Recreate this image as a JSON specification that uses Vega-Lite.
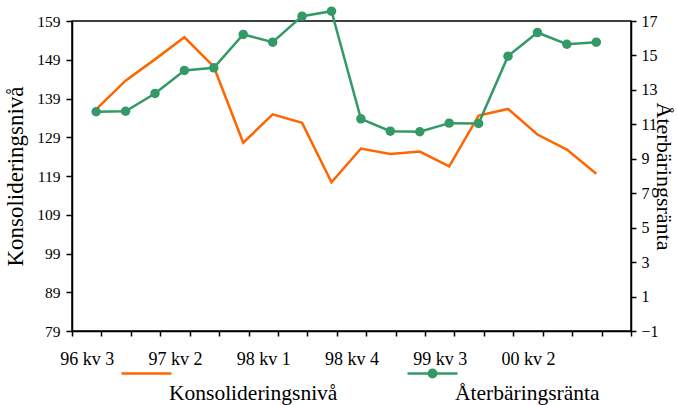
{
  "$schema": "https://vega.github.io/schema/vega-lite/v6.json",
  "width": 559,
  "height": 310,
  "autosize": {"type": "none"},
  "padding": {"left": 72, "top": 21, "right": 46, "bottom": 74},
  "config": {
    "view": {"stroke": "black", "strokeWidth": 1.5},
    "font": "Liberation Serif",
    "axis": {
      "domainColor": "black",
      "domainWidth": 1.5,
      "tickColor": "black",
      "tickWidth": 1.5,
      "labelColor": "black",
      "labelFont": "Liberation Serif",
      "titleFont": "Liberation Serif",
      "titleFontWeight": "normal",
      "titleColor": "black",
      "grid": false
    },
    "legend": {
      "orient": "none",
      "legendX": 48,
      "legendY": 326,
      "direction": "horizontal",
      "symbolSize": 2500,
      "symbolStrokeWidth": 2.5,
      "symbolOpacity": 1,
      "labelFont": "Liberation Serif",
      "labelFontSize": 21.5,
      "labelColor": "black",
      "labelOffset": -4,
      "labelLimit": 400,
      "columnPadding": 64,
      "padding": 0
    }
  },
  "data": {
    "values": [
      {"kvartal": "96 kv 3", "serie": "Konsolideringsnivå", "varde": 136.2},
      {"kvartal": "96 kv 4", "serie": "Konsolideringsnivå", "varde": 143.6},
      {"kvartal": "97 kv 1", "serie": "Konsolideringsnivå", "varde": 149.1},
      {"kvartal": "97 kv 2", "serie": "Konsolideringsnivå", "varde": 154.8},
      {"kvartal": "97 kv 3", "serie": "Konsolideringsnivå", "varde": 147.2},
      {"kvartal": "97 kv 4", "serie": "Konsolideringsnivå", "varde": 127.6},
      {"kvartal": "98 kv 1", "serie": "Konsolideringsnivå", "varde": 134.9},
      {"kvartal": "98 kv 2", "serie": "Konsolideringsnivå", "varde": 132.7},
      {"kvartal": "98 kv 3", "serie": "Konsolideringsnivå", "varde": 117.4},
      {"kvartal": "98 kv 4", "serie": "Konsolideringsnivå", "varde": 126.1},
      {"kvartal": "99 kv 1", "serie": "Konsolideringsnivå", "varde": 124.7},
      {"kvartal": "99 kv 2", "serie": "Konsolideringsnivå", "varde": 125.3},
      {"kvartal": "99 kv 3", "serie": "Konsolideringsnivå", "varde": 121.5},
      {"kvartal": "99 kv 4", "serie": "Konsolideringsnivå", "varde": 134.6},
      {"kvartal": "00 kv 1", "serie": "Konsolideringsnivå", "varde": 136.3},
      {"kvartal": "00 kv 2", "serie": "Konsolideringsnivå", "varde": 129.7},
      {"kvartal": "00 kv 3", "serie": "Konsolideringsnivå", "varde": 125.8},
      {"kvartal": "00 kv 4", "serie": "Konsolideringsnivå", "varde": 119.6},
      {"kvartal": "96 kv 3", "serie": "Återbäringsränta", "varde": 11.73},
      {"kvartal": "96 kv 4", "serie": "Återbäringsränta", "varde": 11.76},
      {"kvartal": "97 kv 1", "serie": "Återbäringsränta", "varde": 12.79},
      {"kvartal": "97 kv 2", "serie": "Återbäringsränta", "varde": 14.13},
      {"kvartal": "97 kv 3", "serie": "Återbäringsränta", "varde": 14.28},
      {"kvartal": "97 kv 4", "serie": "Återbäringsränta", "varde": 16.22},
      {"kvartal": "98 kv 1", "serie": "Återbäringsränta", "varde": 15.77},
      {"kvartal": "98 kv 2", "serie": "Återbäringsränta", "varde": 17.28},
      {"kvartal": "98 kv 3", "serie": "Återbäringsränta", "varde": 17.57},
      {"kvartal": "98 kv 4", "serie": "Återbäringsränta", "varde": 11.32},
      {"kvartal": "99 kv 1", "serie": "Återbäringsränta", "varde": 10.6},
      {"kvartal": "99 kv 2", "serie": "Återbäringsränta", "varde": 10.57},
      {"kvartal": "99 kv 3", "serie": "Återbäringsränta", "varde": 11.07},
      {"kvartal": "99 kv 4", "serie": "Återbäringsränta", "varde": 11.05},
      {"kvartal": "00 kv 1", "serie": "Återbäringsränta", "varde": 14.96},
      {"kvartal": "00 kv 2", "serie": "Återbäringsränta", "varde": 16.33},
      {"kvartal": "00 kv 3", "serie": "Återbäringsränta", "varde": 15.65},
      {"kvartal": "00 kv 4", "serie": "Återbäringsränta", "varde": 15.77}
    ]
  },
  "layer": [
    {
      "transform": [{"filter": "datum.serie === 'Konsolideringsnivå'"}],
      "mark": {"type": "line", "color": "#FF6600", "strokeWidth": 2.5},
      "encoding": {
        "x": {
          "field": "kvartal",
          "type": "ordinal",
          "bandPosition": 0.82,
          "sort": null,
          "scale": {
            "type": "band",
            "domain": ["96 kv 3", "96 kv 4", "97 kv 1", "97 kv 2", "97 kv 3", "97 kv 4", "98 kv 1", "98 kv 2", "98 kv 3", "98 kv 4", "99 kv 1", "99 kv 2", "99 kv 3", "99 kv 4", "00 kv 1", "00 kv 2", "00 kv 3", "00 kv 4", "01 kv 1"],
            "paddingInner": 0,
            "paddingOuter": 0
          },
          "axis": {
            "title": null,
            "labelAngle": 0,
            "tickBand": "extent",
            "tickSize": 5,
            "labelPadding": 14,
            "labelFontSize": 18,
            "labelOverlap": false,
            "labelExpr": "indexof(['96 kv 3','97 kv 2','98 kv 1','98 kv 4','99 kv 3','00 kv 2'], datum.value) >= 0 ? datum.label : ''"
          }
        },
        "y": {
          "field": "varde",
          "type": "quantitative",
          "scale": {"domain": [79, 159], "nice": false, "zero": false},
          "axis": {
            "orient": "left",
            "title": "Konsolideringsnivå",
            "titleFontSize": 23,
            "titlePadding": 9,
            "values": [79, 89, 99, 109, 119, 129, 139, 149, 159],
            "tickSize": 6,
            "labelPadding": 6,
            "labelFontSize": 15.5
          }
        }
      }
    },
    {
      "transform": [{"filter": "datum.serie === 'Återbäringsränta'"}],
      "mark": {
        "type": "line",
        "color": "#339966",
        "strokeWidth": 2.5,
        "point": {"filled": true, "size": 90, "color": "#339966", "opacity": 1}
      },
      "encoding": {
        "x": {
          "field": "kvartal",
          "type": "ordinal",
          "bandPosition": 0.82,
          "sort": null,
          "axis": {
            "title": null,
            "labelAngle": 0,
            "tickBand": "extent",
            "tickSize": 5,
            "labelPadding": 14,
            "labelFontSize": 18,
            "labelOverlap": false,
            "labelExpr": "indexof(['96 kv 3','97 kv 2','98 kv 1','98 kv 4','99 kv 3','00 kv 2'], datum.value) >= 0 ? datum.label : ''"
          }
        },
        "y": {
          "field": "varde",
          "type": "quantitative",
          "scale": {"domain": [-1, 17], "nice": false, "zero": false},
          "axis": {
            "orient": "right",
            "title": "Återbäringsränta",
            "titleFontSize": 22,
            "titlePadding": -7,
            "values": [-1, 1, 3, 5, 7, 9, 11, 13, 15, 17],
            "tickSize": 5,
            "labelPadding": 5,
            "labelFontSize": 16
          }
        }
      }
    },
    {
      "mark": {"type": "point", "filled": true, "opacity": 0, "strokeWidth": 2.5},
      "encoding": {
        "fill": {
          "field": "serie",
          "type": "nominal",
          "scale": {"domain": ["Konsolideringsnivå", "Återbäringsränta"], "range": ["#FF6600", "#339966"]},
          "legend": {"title": null, "labelBaseline": "alphabetic", "encode": {"labels": {"update": {"dy": {"value": 26}}}}}
        },
        "stroke": {
          "field": "serie",
          "type": "nominal",
          "scale": {"domain": ["Konsolideringsnivå", "Återbäringsränta"], "range": ["#FF6600", "#339966"]},
          "legend": {"title": null, "labelBaseline": "alphabetic", "encode": {"labels": {"update": {"dy": {"value": 26}}}}}
        },
        "shape": {
          "field": "serie",
          "type": "nominal",
          "scale": {"domain": ["Konsolideringsnivå", "Återbäringsränta"], "range": ["M-1,0H1", "M-1,0H1M0.15,0A0.15,0.15,0,1,1,-0.15,0A0.15,0.15,0,1,1,0.15,0"]},
          "legend": {"title": null, "labelBaseline": "alphabetic", "encode": {"labels": {"update": {"dy": {"value": 26}}}}}
        }
      }
    }
  ],
  "resolve": {"scale": {"y": "independent"}}
}
